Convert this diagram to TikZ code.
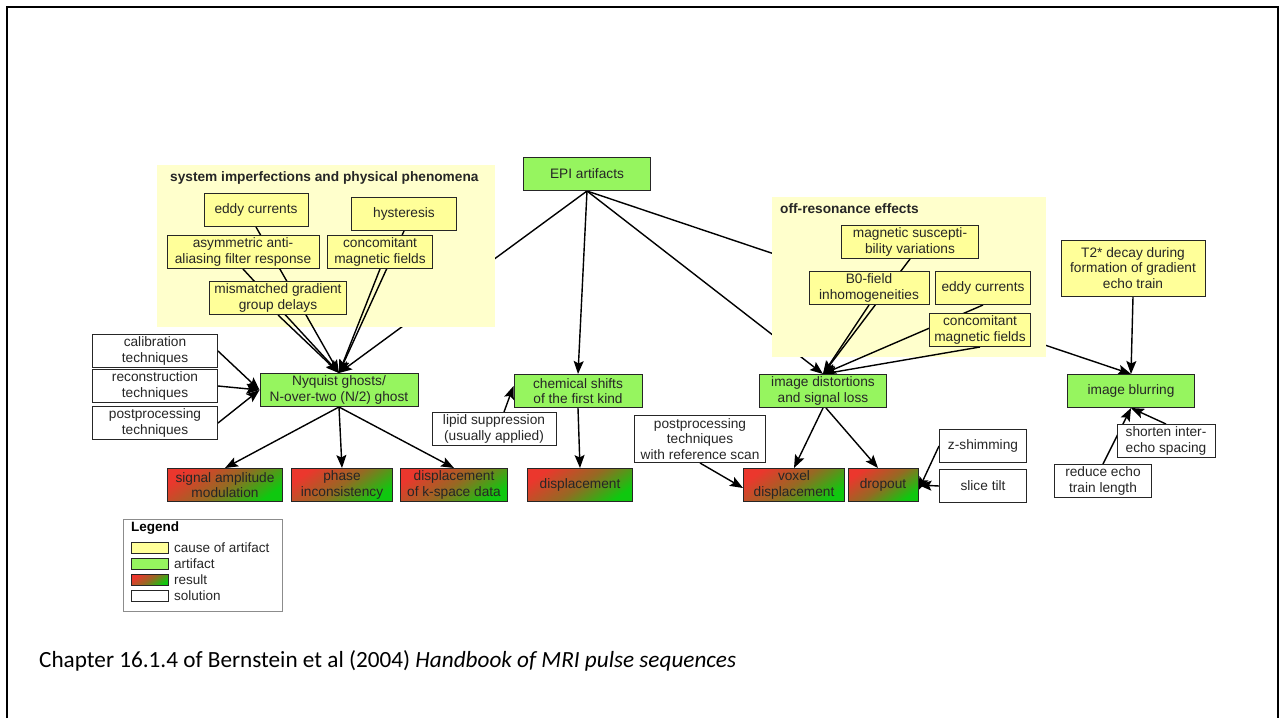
\documentclass[tikz,border=0pt]{standalone}
\usepackage{fontspec}
\setmainfont{Liberation Sans}
\newfontfamily\captionfont{Carlito}
\usetikzlibrary{arrows.meta}
\definecolor{causeyellow}{RGB}{255,255,153}
\definecolor{regionyellow}{RGB}{255,255,204}
\definecolor{artgreen}{RGB}{150,245,95}
\definecolor{resred}{RGB}{235,55,45}
\definecolor{resbrown}{RGB}{150,105,35}
\definecolor{resgreen}{RGB}{15,200,15}
\pgfdeclarelayer{epi}
\pgfdeclarelayer{region}
\pgfdeclarelayer{edges}
\pgfsetlayers{epi,region,edges,main}
\newcommand{\boxfont}{\fontsize{13.7}{15.2}\selectfont}
\tikzset{
  box/.style={draw=black!85, line width=1pt, align=center, inner sep=1pt,
    minimum height=33pt, font=\boxfont, text=black!85},
  cause/.style={box, fill=causeyellow},
  artifact/.style={box, fill=artgreen},
  result/.style={box, left color=resred, right color=resgreen, middle color=resbrown, shading angle=35},
  solution/.style={box, fill=white},
  region/.style={fill=regionyellow},
  link/.style={->, line width=1.4pt},
}
\begin{document}
\begin{tikzpicture}[x=1pt,y=-1pt,>={Stealth[length=13pt,width=10pt,inset=2.5pt]}]
\useasboundingbox (0,0) rectangle (1282,718);
\draw[line width=2pt] (7,718) -- (7,7) -- (1278,7) -- (1278,718);

% causes
\node[artifact, minimum width=127pt] (epi) at (587,174) {EPI artifacts};
\node[cause, minimum width=104pt] (eddyA) at (256,210) {eddy currents};
\node[cause, minimum width=105pt] (hyst) at (404,214) {hysteresis};
\node[cause, minimum width=152pt] (asym) at (243,252) {asymmetric anti-\\aliasing filter response};
\node[cause, minimum width=105pt] (concA) at (380,252) {concomitant\\magnetic fields};
\node[cause, minimum width=137pt] (mism) at (278,298) {mismatched gradient\\group delays};
\node[cause, minimum width=137pt] (susc) at (910,242) {magnetic suscepti-\\bility variations};
\node[cause, minimum width=120pt] (bzero) at (869,288) {B0-field\\inhomogeneities};
\node[cause, minimum width=95pt] (eddyB) at (983,288) {eddy currents};
\node[cause, minimum width=101pt] (concB) at (980,330) {concomitant\\magnetic fields};
\node[cause, minimum width=144pt, minimum height=56pt] (ttwo) at (1133,268) {T2* decay during\\formation of gradient\\echo train};

% artifacts
\node[artifact, minimum width=158pt] (nyq) at (339,390) {Nyquist ghosts/\\N-over-two (N/2) ghost};
\node[artifact, minimum width=128pt] (chem) at (578,391) {chemical shifts\\of the first kind};
\node[artifact, minimum width=127pt] (dist) at (823,391) {image distortions\\and signal loss};
\node[artifact, minimum width=127pt] (blur) at (1131,391) {image blurring};

% solutions
\node[solution, minimum width=125pt] (calib) at (155,351) {calibration\\techniques};
\node[solution, minimum width=125pt] (recon) at (155,386) {reconstruction\\techniques};
\node[solution, minimum width=125pt] (postA) at (155,423) {postprocessing\\techniques};
\node[solution, minimum width=124pt] (lipid) at (494,429) {lipid suppression\\(usually applied)};
\node[solution, minimum width=131pt, minimum height=47pt] (postB) at (700,439) {postprocessing\\techniques\\with reference scan};
\node[solution, minimum width=87pt] (zshim) at (983,446) {z-shimming};
\node[solution, minimum width=87pt] (tilt) at (983,486) {slice tilt};
\node[solution, minimum width=98pt] (shorten) at (1166,441) {shorten inter-\\echo spacing};
\node[solution, minimum width=97pt] (reduce) at (1103,481) {reduce echo\\train length};

% results
\node[result, minimum width=115pt] (ampl) at (225,485) {signal amplitude\\modulation};
\node[result, minimum width=101pt] (phase) at (342,485) {phase\\inconsistency};
\node[result, minimum width=107pt] (kspace) at (454,485) {displacement\\of k-space data};
\node[result, minimum width=105pt] (displ) at (580,485) {displacement};
\node[result, minimum width=101pt] (voxel) at (794,485) {voxel\\displacement};
\node[result, minimum width=70pt] (drop) at (883,485) {dropout};

% region titles
\node[anchor=west, font=\boxfont\bfseries, text=black!85, inner sep=0pt] (sysTitle) at (170,178) {system imperfections and physical phenomena};
\node[anchor=west, font=\boxfont\bfseries, text=black!85, inner sep=0pt] (offTitle) at (780,209) {off-resonance effects};

\begin{pgfonlayer}{epi}
\foreach \dst in {nyq,dist,blur}
  \draw[link] (epi.south) -- (\dst.north);
\end{pgfonlayer}

\begin{pgfonlayer}{region}
\fill[region] (157,165) rectangle (495,327);
\fill[region] (772,197) rectangle (1046,357);
\end{pgfonlayer}

\begin{pgfonlayer}{edges}
\foreach \src in {eddyA,hyst,asym,concA,mism}
  \draw[link] (\src.south) -- (nyq.north);
\foreach \src in {calib,recon,postA}
  \draw[link] (\src.east) -- (nyq.west);
\foreach \dst in {ampl,phase,kspace}
  \draw[link] (nyq.south) -- (\dst.north);
\draw[link] (epi.south) -- (chem.north);
\draw[link] (chem.south) -- (displ.north);
\draw[link] ([xshift=10pt]lipid.north) -- ([yshift=5pt]chem.west);
\foreach \src in {susc,bzero,eddyB,concB}
  \draw[link] (\src.south) -- (dist.north);
\draw[link] (dist.south) -- (voxel.north);
\draw[link] ([xshift=3pt]dist.south) -- ([xshift=-5pt]drop.north);
\draw[link] (postB.south) -- ([yshift=-3pt]voxel.west);
\draw[link] (zshim.west) -- ([yshift=-5pt]drop.east);
\draw[link] (tilt.west) -- (drop.east);
\draw[link] (ttwo.south) -- (blur.north);
\draw[link] (shorten.north) -- (blur.south);
\draw[link] (reduce.north) -- (blur.south);
\end{pgfonlayer}

% legend
\node[draw=black!45, line width=0.8pt, minimum width=159pt, minimum height=92pt] (legend) at (202.5,565) {};
\node[anchor=west, font=\fontsize{13.5}{15}\selectfont\bfseries, inner sep=0pt] (legTitle) at (131,528) {Legend};
\foreach \sty/\txt [count=\i] in {cause/cause of artifact, artifact/artifact, result/result, solution/solution} {
  \node[\sty, minimum width=37pt, minimum height=11pt, inner sep=0pt] (sw\i) at (149.5,532+16*\i) {};
  \node[anchor=west, font=\fontsize{13.5}{15}\selectfont, text=black!85, inner sep=0pt] (lab\i) at (174,532+16*\i) {\txt};
}

\node[anchor=west, inner sep=0pt, font=\captionfont\fontsize{23.2}{26}\selectfont] (caption) at (39,661)
  {Chapter 16.1.4 of Bernstein et al (2004) \textit{Handbook of MRI pulse sequences}};
\end{tikzpicture}
\end{document}
